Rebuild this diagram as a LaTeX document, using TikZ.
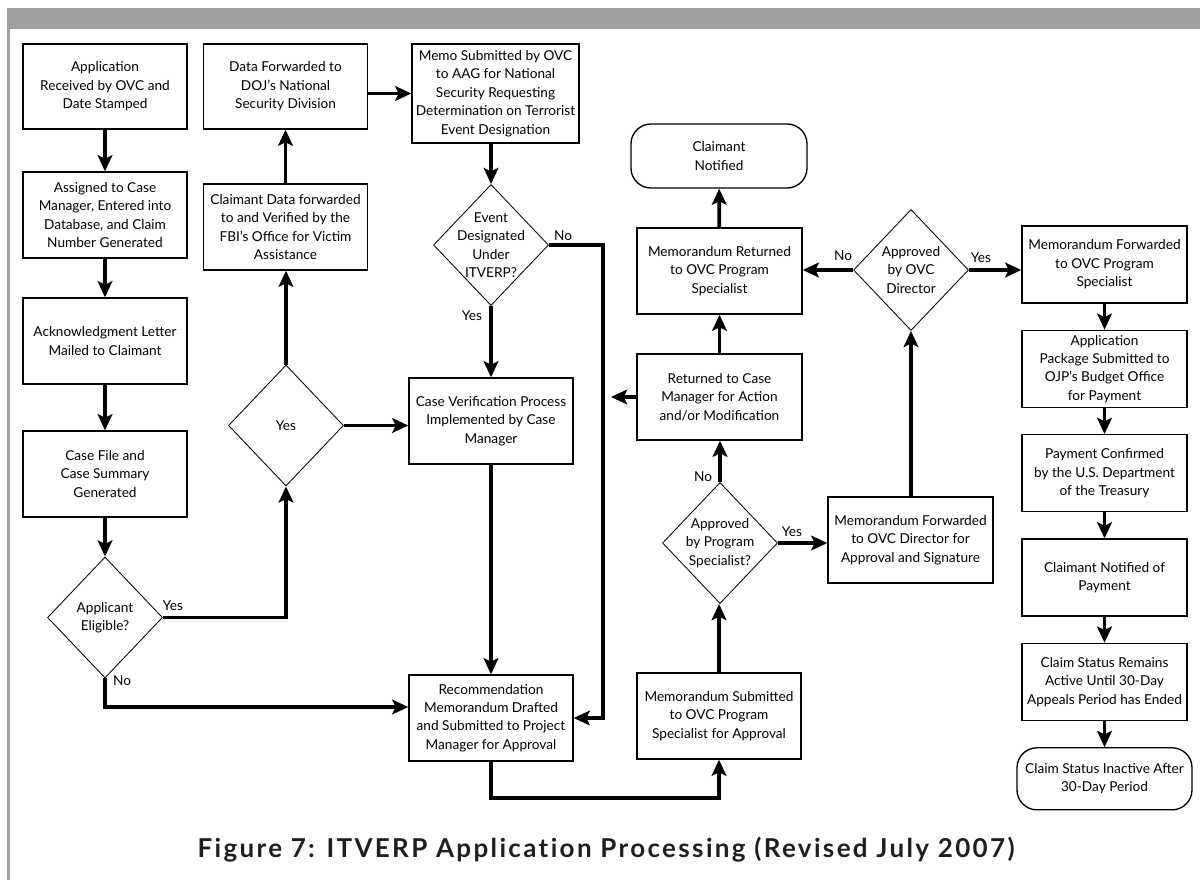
\documentclass[tikz,border=0pt]{standalone}
\usepackage{fontspec}
\setmainfont{Lato}
\newfontfamily\captionfont[LetterSpace=9, Ligatures=NoCommon]{Lato}
\usepackage{tikz}
\usetikzlibrary{positioning}
\usetikzlibrary{shapes.geometric}
\usetikzlibrary{arrows.meta}
\definecolor{bargray}{RGB}{160,160,160}
\tikzset{flow/.style={-{Stealth[length=11.5pt,width=10.5pt,inset=2.5pt]}, line width=2.6pt}, % thick connectors, big heads
process/.style={draw, line width=0.95pt, align=center, inner sep=1pt, minimum width=4.1cm, minimum height=2.15cm, font=\fontsize{9.7}{13.1}\selectfont}, % ordinary step
paybox/.style={process, minimum height=1.925cm}, % steps of the right column
terminal/.style={process, rounded corners=0.5cm, minimum width=4.4cm, minimum height=1.6cm}, % round-ended boxes
decision/.style={draw, diamond, line width=0.6pt, inner sep=0pt, minimum width=2.875cm, minimum height=3.025cm}, % empty diamond, text goes in as label
dtext/.style={align=center, font=\fontsize{9.7}{13.1}\selectfont}, % text inside a diamond
answer/.style={font=\fontsize{9.7}{13.1}\selectfont, inner sep=0pt}, % Yes / No
}

\begin{document}
\begin{tikzpicture}[x=0.025cm, y=-0.025cm]
\useasboundingbox (0,0) rectangle (1200,880);
% grey frame
\fill[bargray] (7,8) rectangle (1200,29);
\fill[bargray] (7,29) rectangle (9.5,880);

% first column
\node[process, minimum height=2.125cm] (app) at (105,86.5) {Application\\Received by OVC and\\Date Stamped};
\node[process] (assign) at (105,215) {Assigned to Case\\Manager, Entered into\\Database, and Claim\\Number Generated};
\node[process] (ack) at (105,341) {Acknowledgment Letter\\Mailed to Claimant};
\node[process] (casefile) at (105,474) {Case File and\\Case Summary\\Generated};
\node[decision, label={[dtext]center:Applicant\\Eligible?}] (elig) at (105,617.5) {};

% second column
\node[process, minimum height=2.125cm] (doj) at (285.5,86.5) {Data Forwarded to\\DOJ's National\\Security Division};
\node[process] (fbi) at (285.5,227) {Claimant Data forwarded\\to and Verified by the\\FBI's Office for Victim\\Assistance};
\node[decision, label={[dtext]center:Yes}] (yesd) at (286,425.5) {};

% third column
\node[process, minimum width=4.175cm, minimum height=2.475cm] (memo) at (495.5,93.5) {Memo Submitted by OVC\\to AAG for National\\Security Requesting\\Determination on Terrorist\\Event Designation};
\node[decision, label={[dtext]center:Event\\Designated\\Under\\ITVERP?}] (event) at (491,245) {};
\node[process] (verif) at (491,421) {Case Verification Process\\Implemented by Case\\Manager};
\node[process] (rec) at (491,718) {Recommendation\\Memorandum Drafted\\and Submitted to Project\\Manager for Approval};

% fourth column
\node[terminal] (claimnot) at (719,156) {Claimant\\Notified};
\node[process, minimum width=4.125cm] (memoret) at (719.5,271) {Memorandum Returned\\to OVC Program\\Specialist};
\node[process, minimum width=4.125cm] (returned) at (719.5,397) {Returned to Case\\Manager for Action\\and/or Modification};
\node[decision, label={[dtext]center:Approved\\by Program\\Specialist?}] (ps) at (720,543) {};
\node[process] (memosub) at (719,716) {Memorandum Submitted\\to OVC Program\\Specialist for Approval};

% fifth column
\node[decision, label={[dtext]center:Approved\\by OVC\\Director}] (dir) at (911,270) {};
\node[process, minimum width=4.125cm] (fwddir) at (910.5,540) {Memorandum Forwarded\\to OVC Director for\\Approval and Signature};

% right column
\node[paybox, minimum width=4.125cm] (fwdps) at (1104.5,264.5) {Memorandum Forwarded\\to OVC Program\\Specialist};
\node[paybox, minimum width=4.125cm, below=0.65cm of fwdps] (pkg) {Application\\Package Submitted to\\OJP's Budget Office\\for Payment};
\node[paybox, minimum width=4.125cm, below=0.65cm of pkg] (paid) {Payment Confirmed\\by the U.S. Department\\of the Treasury};
\node[paybox, minimum width=4.125cm, below=0.65cm of paid] (notpay) {Claimant Notified of\\Payment};
\node[paybox, minimum width=4.125cm, below=0.65cm of notpay] (active) {Claim Status Remains\\Active Until 30-Day\\Appeals Period has Ended};
\node[terminal, minimum width=4.375cm, minimum height=1.55cm, below=0.65cm of active] (inactive) {Claim Status Inactive After\\30-Day Period};

% bends and free ends
\coordinate (elbow) at (105,707);
\coordinate (nojoin) at (603,718);
\coordinate (backtip) at (611,397);

\draw[flow] (app) -- (assign);
\draw[flow] (assign) -- (ack);
\draw[flow] (ack) -- (casefile);
\draw[flow] (casefile) -- (elig);
\draw[flow] (elig.east) -| (yesd.south);
\draw[flow] (elig.south) -- (elbow) -- (elbow -| rec.west);
\draw[flow] (yesd.north) -- (yesd.north |- fbi.south);
\draw[flow] (fbi) -- (doj);
\draw[flow] (yesd.east) -- (yesd.east -| verif.west);
\draw[flow] (memo.west -| doj.east) -- (memo.west);
\draw[flow] (event.north |- memo.south) -- (event.north);
\draw[flow] (event) -- (verif);
\draw[flow] (event.east) -| (nojoin) -- (rec.east);
\draw[flow] (verif) -- (rec);
\draw[flow] (rec.south) -- ++(0,36) -| (memosub.south);
\draw[flow] (memosub.north) -- (memosub.north |- ps.south);
\draw[flow] (ps.north) -- (ps.north |- returned.south);
\draw[flow] (ps.east) -- (ps.east -| fwddir.west);
\draw[flow] (returned.west) -- (backtip);
\draw[flow] (returned) -- (memoret);
\draw[flow] (memoret) -- (claimnot);
\draw[flow] (dir.south |- fwddir.north) -- (dir.south);
\draw[flow] (dir.west) -- (dir.west -| memoret.east);
\draw[flow] (dir.east) -- (dir.east -| fwdps.west);
\draw[flow] (fwdps) -- (pkg);
\draw[flow] (pkg) -- (paid);
\draw[flow] (paid) -- (notpay);
\draw[flow] (notpay) -- (active);
\draw[flow] (active) -- (inactive);

% yes / no
\node[answer] (yes1) at (173,606) {Yes};
\node[answer] (no1) at (122,681) {No};
\node[answer] (yes2) at (472,316) {Yes};
\node[answer] (no2) at (563,236) {No};
\node[answer] (no3) at (703,477) {No};
\node[answer] (yes3) at (792,532) {Yes};
\node[answer] (no4) at (843,256) {No};
\node[answer] (yes4) at (981,258) {Yes};

\node[font=\captionfont\bfseries\fontsize{18.5}{22}\selectfont, text=black!88] (caption) at (606,850) {Figure 7: ITVERP Application Processing (Revised July 2007)};
\end{tikzpicture}
\end{document}
